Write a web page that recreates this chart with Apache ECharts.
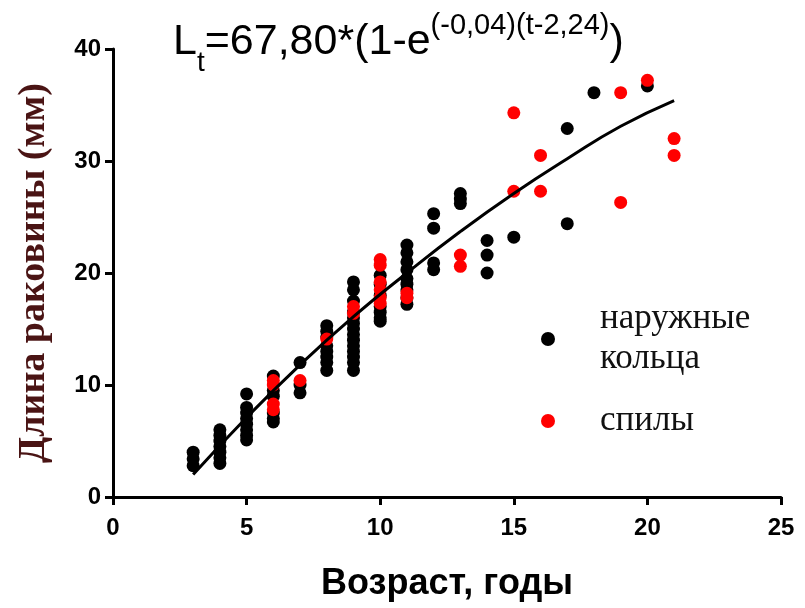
<!DOCTYPE html>
<html><head><meta charset="utf-8">
<script src="https://cdn.jsdelivr.net/npm/echarts@6/dist/echarts.min.js"></script>
<style>html,body{margin:0;padding:0;background:#fff}#c{width:805px;height:608px}</style>
</head><body><div id="c"></div>
<script>
// Black points: наружные кольца (age, length)
const ringsAge = [3,3,3, 4,4,4,4,4,4,4, 5,5,5,5,5,5,5,5, 6,6,6,6,6,6, 7,7,7,
  8,8,8,8,8,8,8,8, 9,9,9,9,9,9,9,9,9,9,9,9,9,9, 10,10,10,10,10,10,10,
  11,11,11,11,11,11,11,11,11, 12,12,12,12, 13,13,13, 14,14,14, 15, 17,17, 18, 20];
const ringsLen = [4.0,3.4,2.8, 6.0,5.5,5.0,4.5,4.0,3.5,3.0, 9.2,8.0,7.5,7.0,6.5,6.0,5.5,5.1,
  10.8,9.5,9.0,7.5,7.0,6.7, 12.0,10.0,9.3,
  15.3,14.8,14.3,13.5,13.0,12.5,12.0,11.3,
  19.2,18.5,17.5,16.5,16.0,15.5,15.0,14.5,14.0,13.5,13.0,12.5,12.0,11.3,
  19.8,19.0,18.0,17.0,16.5,16.0,15.7,
  22.5,21.8,21.0,20.3,19.5,19.0,18.5,17.8,17.2,
  25.3,24.0,20.9,20.3, 27.1,26.6,26.2, 22.9,21.6,20.0, 23.2, 32.9,24.4, 36.1, 36.7];
// Red points: спилы
const cutsAge = [6,6,6,6, 7, 8, 9,9, 10,10,10,10,10,10, 11,11, 13,13, 15,15, 16,16, 19,19, 20, 21,21];
const cutsLen = [10.4,10.0,8.3,7.8, 10.4, 14.1, 17.0,16.4, 21.2,20.7,19.2,18.5,17.8,17.3, 18.2,17.8,
  21.6,20.6, 34.3,27.3, 30.5,27.3, 36.1,26.3, 37.2, 32.0,30.5];
// Fitted curve
const fitAge = [3,5,7,9,11,13,15,17,19,21];
const fitLen = [2.0,7.1,11.8,16.1,20.0,23.7,27.1,30.2,33.1,35.4];
const xTicks = [0,5,10,15,20,25];
const yTicks = [0,10,20,30,40];

const zip = (a,b) => a.map((v,i)=>[v,b[i]]);
const chart = echarts.init(document.getElementById('c'));
const SANS = 'Liberation Sans, Arial';
chart.setOption({
  backgroundColor:'#fff',
  animation:false,
  title:{
    left:168, top:14,
    text:'{a|L}{s|t}{a|=67,80*(1-e}{p|(-0,04)(t-2,24)}{a|)}',
    textStyle:{
      fontWeight:'normal',
      rich:{
        a:{fontFamily:SANS,fontSize:43,fontWeight:'normal',color:'#000',lineHeight:46,verticalAlign:'middle'},
        s:{fontFamily:SANS,fontSize:28,fontWeight:'normal',color:'#000',lineHeight:28,verticalAlign:'bottom',padding:[0,0,-12,0]},
        p:{fontFamily:SANS,fontSize:29,fontWeight:'normal',color:'#000',lineHeight:29,verticalAlign:'top',padding:[-8,0,0,0]}
      }
    }
  },
  grid:{left:113,right:24,top:49,bottom:111},
  legend:{
    orient:'vertical', left:536, top:294, itemGap:22,
    itemWidth:14, itemHeight:14, icon:'circle',
    data:['наружные\nкольца','спилы'],
    textStyle:{fontFamily:'Liberation Serif, Times New Roman',fontSize:35,color:'#111',lineHeight:40,padding:[0,0,0,40]}
  },
  xAxis:{
    type:'value', min:0, max:25, interval:5,
    name:'Возраст, годы', nameLocation:'middle', nameGap:69,
    nameTextStyle:{fontFamily:SANS,fontSize:36,fontWeight:'bold',color:'#000'},
    axisLine:{lineStyle:{color:'#000',width:3}},
    axisTick:{length:8,lineStyle:{color:'#000',width:3}},
    splitLine:{show:false},
    axisLabel:{margin:19,fontFamily:SANS,fontSize:24,fontWeight:'bold',color:'#000',
      formatter:v=>xTicks.includes(v)?String(v):''}
  },
  yAxis:{
    type:'value', min:0, max:40, interval:10,
    name:'Длина раковины (мм)', nameLocation:'middle', nameGap:60, nameRotate:90,
    nameTextStyle:{fontFamily:'Liberation Serif, Times New Roman',fontSize:38,fontWeight:'bold',color:'#4a1414'},
    axisLine:{show:true,lineStyle:{color:'#000',width:3}},
    axisTick:{show:true,length:8,lineStyle:{color:'#000',width:3}},
    splitLine:{show:false},
    axisLabel:{margin:12,fontFamily:SANS,fontSize:24,fontWeight:'bold',color:'#000',
      formatter:v=>yTicks.includes(v)?String(v):''}
  },
  series:[
    {name:'наружные\nкольца', type:'scatter', data:zip(ringsAge,ringsLen), symbolSize:13,
      itemStyle:{color:'#000',opacity:1}},
    {name:'fit', type:'line', data:zip(fitAge,fitLen), smooth:true, showSymbol:false, symbol:'none',
      lineStyle:{color:'#000',width:3}},
    {name:'спилы', type:'scatter', data:zip(cutsAge,cutsLen), symbolSize:13,
      itemStyle:{color:'#ff0000',opacity:1}}
  ]
});
</script></body></html>
